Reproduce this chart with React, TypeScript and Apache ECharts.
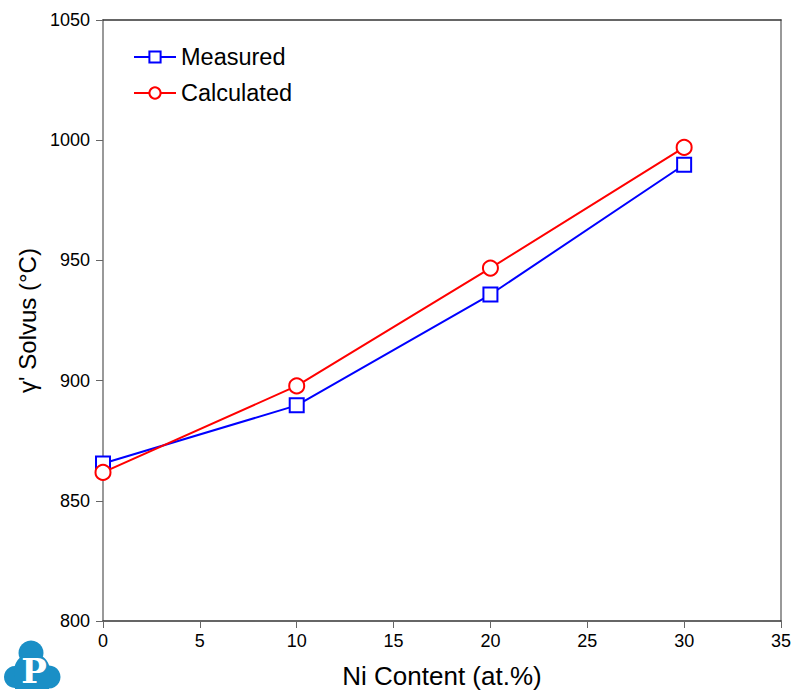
import React, { useEffect, useRef } from "react";
import * as echarts from "echarts";

const niContent = [0, 10, 20, 30];
const measured = [865.5, 889.7, 935.8, 989.8];
const calculated = [861.8, 897.8, 946.8, 997];

export default function App() {
  const ref = useRef<HTMLDivElement>(null);
  useEffect(() => {
    if (!ref.current) return;
    const chart = echarts.init(ref.current, null, { renderer: "svg" });
    const font = "Arial, 'Liberation Sans', sans-serif";
    const logoColor = "#1a8fc6";
    chart.setOption({
      animation: false,
      backgroundColor: "#ffffff",
      textStyle: { fontFamily: font },
      grid: { left: 103, right: 14, top: 20, bottom: 71 },
      legend: {
        orient: "vertical",
        left: 128,
        top: 40,
        itemWidth: 42,
        itemHeight: 14,
        itemGap: 12,
        textStyle: { fontSize: 23.5, color: "#000", fontFamily: font },
        data: ["Measured", "Calculated"],
      },
      xAxis: [
        {
          type: "value",
          min: 0,
          max: 35,
          interval: 5,
          name: "Ni Content (at.%)",
          nameLocation: "middle",
          nameGap: 42,
          nameTextStyle: { fontSize: 26, color: "#000" },
          axisLine: { show: true, lineStyle: { color: "#333", width: 1.5 } },
          axisTick: { show: true, inside: false, length: 7, lineStyle: { color: "#666" } },
          axisLabel: { fontSize: 18, color: "#000", margin: 11, formatter: (v: number) => String(v) },
          splitLine: { show: false },
        },
        {
          type: "value",
          position: "top",
          min: 0,
          max: 35,
          axisLine: { show: true, onZero: false, lineStyle: { color: "#333", width: 1.5 } },
          axisTick: { show: false },
          axisLabel: { show: false },
          splitLine: { show: false },
        },
      ],
      yAxis: [
        {
          type: "value",
          min: 800,
          max: 1050,
          interval: 50,
          name: "\u03b3' Solvus (\u00b0C)",
          nameLocation: "middle",
          nameGap: 60,
          nameTextStyle: { fontSize: 24, color: "#000" },
          axisLine: { show: true, lineStyle: { color: "#777", width: 1.5 } },
          axisTick: { show: true, inside: false, length: 7, lineStyle: { color: "#666" } },
          axisLabel: { fontSize: 18, color: "#000", margin: 13, formatter: (v: number) => String(v) },
          splitLine: { show: false },
        },
        {
          type: "value",
          position: "right",
          min: 800,
          max: 1050,
          axisLine: { show: true, onZero: false, lineStyle: { color: "#777", width: 1.5 } },
          axisTick: { show: false },
          axisLabel: { show: false },
          splitLine: { show: false },
        },
      ],
      series: [
        {
          name: "Measured",
          type: "line",
          data: niContent.map((x, i) => [x, measured[i]]),
          symbol: "emptyRect",
          symbolSize: 14,
          lineStyle: { color: "#0000ff", width: 2 },
          itemStyle: { color: "#0000ff", borderColor: "#0000ff", borderWidth: 2 },
          z: 3,
        },
        {
          name: "Calculated",
          type: "line",
          data: niContent.map((x, i) => [x, calculated[i]]),
          symbol: "emptyCircle",
          symbolSize: 15,
          lineStyle: { color: "#ff0000", width: 2 },
          itemStyle: { color: "#ff0000", borderColor: "#ff0000", borderWidth: 2 },
          z: 4,
        },
      ],
      graphic: [
        {
          type: "group",
          x: 0,
          y: 0,
          silent: true,
          children: [
            { type: "circle", shape: { cx: 31, cy: 653, r: 12.5 }, style: { fill: logoColor } },
            { type: "circle", shape: { cx: 15, cy: 677, r: 11 }, style: { fill: logoColor } },
            { type: "circle", shape: { cx: 49, cy: 677, r: 11.5 }, style: { fill: logoColor } },
            { type: "circle", shape: { cx: 32, cy: 671, r: 18 }, style: { fill: logoColor } },
            { type: "rect", shape: { x: 15, y: 672, width: 34, height: 17 }, style: { fill: logoColor } },
            {
              type: "text",
              x: 34,
              y: 671,
              style: {
                text: "P",
                fill: "#ffffff",
                font: "bold 34px 'DejaVu Serif', 'Liberation Serif', serif",
                align: "center",
                verticalAlign: "middle",
              },
            },
          ],
        },
      ],
    });
    return () => chart.dispose();
  }, []);
  return <div ref={ref} style={{ width: 795, height: 694, position: "absolute", left: 0, top: 0 }} />;
}
